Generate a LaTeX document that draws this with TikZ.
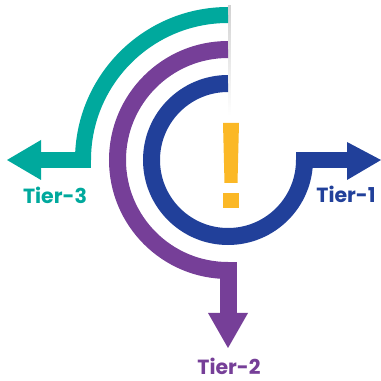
\documentclass[tikz,border=0pt]{standalone}
\usepackage{fontspec}
\usetikzlibrary{fadings}
\newfontfamily\tierfont{Poppins}[UprightFont=* Bold]
\definecolor{tteal}{RGB}{0,169,157}
\definecolor{tpurple}{RGB}{118,63,152}
\definecolor{tblue}{RGB}{33,64,154}
\definecolor{tyellow}{RGB}{251,184,38}
\begin{document}
\begin{tikzpicture}[x=1pt,y=1pt,
  band/.style={line width=#1, line cap=butt},
  lbl/.style={font=\tierfont\fontsize{20.5}{20.5}\selectfont, anchor=base, inner sep=0pt}]
\useasboundingbox (0,0) rectangle (381,381);
% shadow at the cut
\fill[black!18, path fading=south] (228,266) rectangle (231,376);
% teal (Tier-3)
\coordinate (c3s) at (228,366);
\draw[tteal, band=16pt] (c3s) arc (90:180:145pt);
\fill[tteal] (41,213) rectangle (91,229);
\fill[tteal] (41,241) -- (7,221) -- (41,201) -- cycle;
% purple (Tier-2)
\coordinate (c2s) at (228,331.5);
\draw[tpurple, band=17pt] (c2s) arc (90:270:110.5pt);
\fill[tpurple] (220,119) rectangle (237,68);
\fill[tpurple] (208,68) -- (228,33) -- (248,68) -- cycle;
% blue (Tier-1)
\coordinate (c1s) at (228,297.5);
\draw[tblue, band=17pt] (c1s) arc (90:360:76.5pt);
\fill[tblue] (296,213) rectangle (347,229);
\fill[tblue] (347,239) -- (381,221) -- (347,201) -- cycle;
% exclamation mark
\fill[tyellow] (223,258) -- (239,258) -- (237.5,198) -- (224.5,198) -- cycle;
\fill[tyellow] (223,173) rectangle (239,188);
% labels
\node[lbl, text=tteal] (t3) at (55,177) {Tier-3};
\node[lbl, text=tblue] (t1) at (346,178) {Tier-1};
\node[lbl, text=tpurple] (t2) at (229,6) {Tier-2};
\end{tikzpicture}
\end{document}
